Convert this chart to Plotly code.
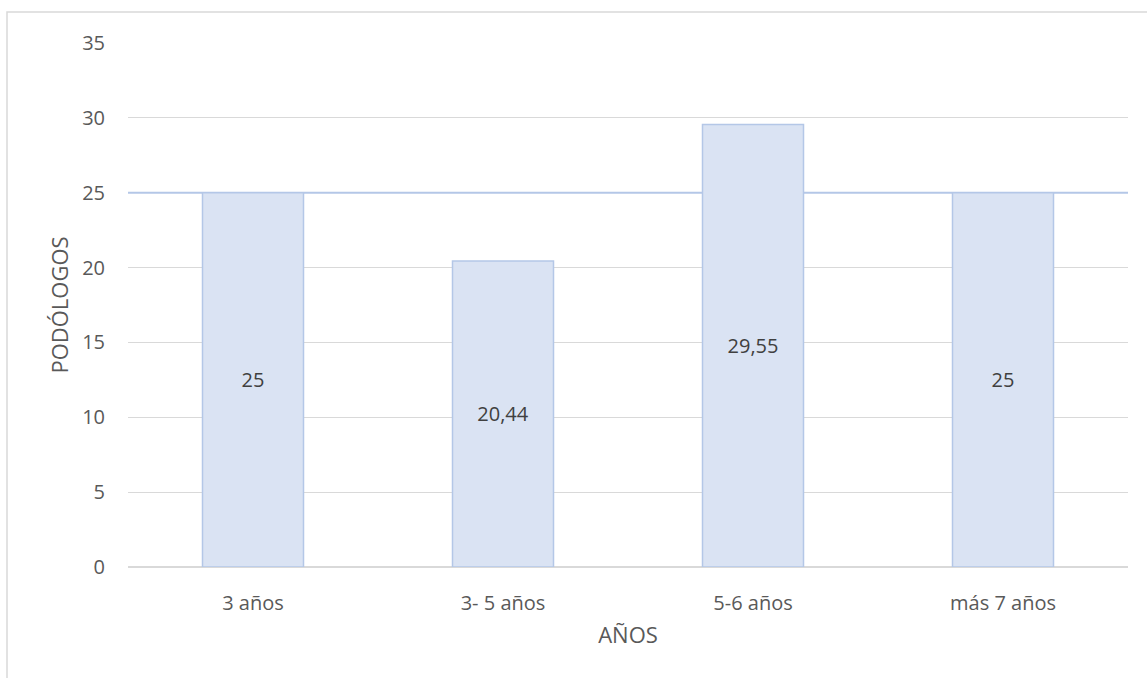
import plotly.graph_objects as go

categories = ["3 años", "3- 5 años", "5-6 años", "más 7 años"]
values = [25, 20.44, 29.55, 25]
value_labels = ["25", "20,44", "29,55", "25"]
reference_value = 25
reference_span = [0, 1]
y_tick_values = [0, 5, 10, 15, 20, 25, 30, 35]
x_title = "AÑOS"
y_title = "PODÓLOGOS"

FONT = "Open Sans"
TXT = "#595959"

fig = go.Figure()
# reference line on the base axes (drawn beneath the bars, above the grid)
fig.add_trace(go.Scatter(
    x=reference_span,
    y=[reference_value] * len(reference_span),
    mode="lines",
    line=dict(color="#B4C7E7", width=2),
    hoverinfo="skip",
    xaxis="x", yaxis="y",
))
# bars on overlaying axes so they sit on top of the reference line
fig.add_trace(go.Bar(
    x=categories,
    y=values,
    text=value_labels,
    textposition="inside",
    insidetextanchor="middle",
    textangle=0,
    textfont=dict(family=FONT, size=20, color="#404040"),
    marker=dict(color="#DAE3F3", line=dict(color="#B4C7E7", width=1.5)),
    hoverinfo="x+y",
    xaxis="x2", yaxis="y2",
))

# outer chart border
fig.add_shape(type="rect", xref="paper", yref="paper",
              x0=-0.121, x1=1.03, y0=-0.25, y1=1.059,
              line=dict(color="#D9D9D9", width=1.5), fillcolor="rgba(0,0,0,0)",
              layer="below")

fig.update_layout(
    width=1147, height=678,
    margin=dict(l=128, r=19, t=43, b=111),
    paper_bgcolor="white", plot_bgcolor="white",
    bargap=0.596,
    showlegend=False,
    font=dict(family=FONT, size=20, color=TXT),
    xaxis=dict(
        range=[0, 1], visible=False, showgrid=False, zeroline=False,
    ),
    xaxis2=dict(
        overlaying="x", side="bottom", anchor="y",
        title=dict(text=x_title, font=dict(family=FONT, size=22, color=TXT), standoff=12),
        showgrid=False, showline=False, zeroline=False,
        ticks="", ticklabelstandoff=22,
        tickfont=dict(family=FONT, size=20, color=TXT),
    ),
    yaxis=dict(
        title=dict(text=y_title, font=dict(family=FONT, size=22, color=TXT), standoff=7),
        range=[0, 35], tickvals=y_tick_values,
        showgrid=True, gridcolor="#D9D9D9", gridwidth=1.3,
        zeroline=True, zerolinecolor="#D9D9D9", zerolinewidth=1.5,
        showline=False, ticks="", ticklabelstandoff=22,
        tickfont=dict(family=FONT, size=20, color=TXT),
    ),
    yaxis2=dict(
        overlaying="y", anchor="x2", range=[0, 35],
        visible=False, showgrid=False, zeroline=False,
    ),
)

fig.write_html("out.html")
